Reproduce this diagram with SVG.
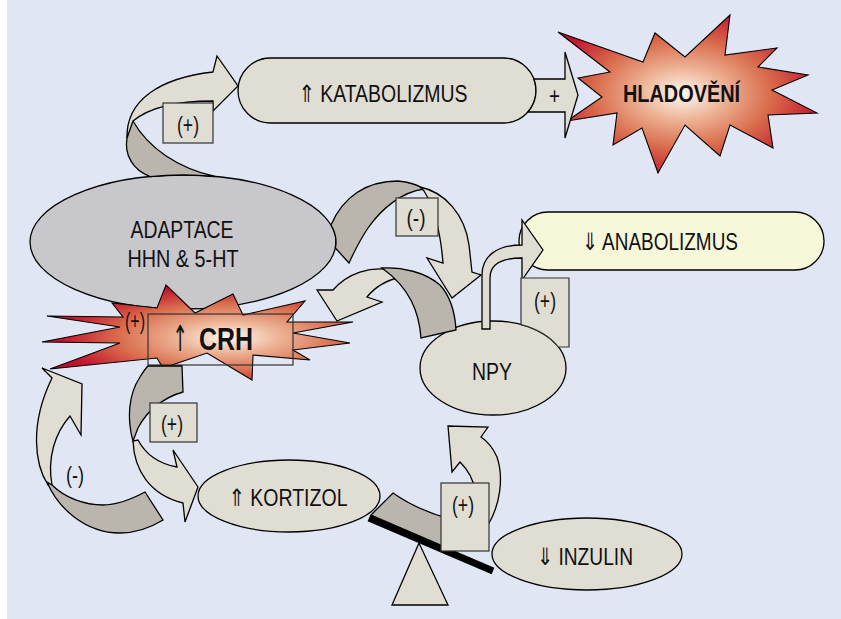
<svg xmlns="http://www.w3.org/2000/svg" width="841" height="619" viewBox="0 0 841 619">
<defs>
<radialGradient id="burstH" cx="0.48" cy="0.5" r="0.55">
<stop offset="0" stop-color="#FFF8F2"/>
<stop offset="0.3" stop-color="#EDB395"/>
<stop offset="0.62" stop-color="#D96C4C"/>
<stop offset="1" stop-color="#C2102C"/>
</radialGradient>
<radialGradient id="burstC" cx="0.6" cy="0.55" r="0.55">
<stop offset="0" stop-color="#FFF8F2"/>
<stop offset="0.3" stop-color="#EDB395"/>
<stop offset="0.65" stop-color="#D96C4C"/>
<stop offset="1" stop-color="#C2102C"/>
</radialGradient>
</defs>
<style>
.lt{fill:#E0DDD3;stroke:#000;stroke-width:1.3;stroke-linejoin:miter}
.dk{fill:#BAB6AD;stroke:#000;stroke-width:1.3;stroke-linejoin:miter}
.box{fill:#E0DDD3;stroke:#333;stroke-width:1.2}
.nd{fill:#E0DDD3;stroke:#000;stroke-width:1.3}
.burst{stroke:#000;stroke-width:1.1;stroke-linejoin:miter}
.t{font-family:"Liberation Sans","DejaVu Sans",sans-serif;font-size:24px;fill:#111;text-anchor:middle}
.lb{font-family:"Liberation Sans","DejaVu Sans",sans-serif;font-size:24px;fill:#111;text-anchor:middle}
</style>
<rect x="0" y="0" width="841" height="619" fill="#FFFFFF"/>
<rect x="7" y="0" width="834" height="619" fill="#E0E6F4"/>

<g id="hladoveni">
<polygon class="burst" fill="url(#burstH)" points="558,32 643,62 655,33 685,57 730,15 725,55 777,48 758,67 808,75 772,90 817,113 768,115 773,148 730,125 720,156 685,125 658,173 642,128 613,145 617,113 567,121 602,97 578,78 610,72"/>
<text class="t" x="681.5" y="102" font-size="24" font-weight="bold" textLength="117" lengthAdjust="spacingAndGlyphs">HLADOVĚNÍ</text>
</g>

<g id="katabolizmus">
<rect class="nd" x="238" y="58" width="298" height="65" rx="32.5" ry="32.5"/>
<text class="t" x="383" y="102" textLength="169" lengthAdjust="spacingAndGlyphs">⇑ KATABOLIZMUS</text>
</g>

<g id="anabolizmus">
<rect x="519" y="212" width="305" height="58" rx="29" ry="29" fill="#F7F7D9" stroke="#000" stroke-width="1.3"/>
<text class="t" x="660" y="250" textLength="156" lengthAdjust="spacingAndGlyphs">⇓ ANABOLIZMUS</text>
</g>

<g id="adaptace">
<ellipse cx="183" cy="242" rx="153" ry="67" fill="#C8C7CC" stroke="#000" stroke-width="1.3"/>
<text class="t" x="182" y="238" font-size="22" textLength="103" lengthAdjust="spacingAndGlyphs">ADAPTACE</text>
<text class="t" x="183" y="267" font-size="22" textLength="111" lengthAdjust="spacingAndGlyphs">HHN &amp; 5-HT</text>
</g>

<g id="crh">
<polygon class="burst" fill="url(#burstC)" points="47,316 123,317 112,303 157,308 166,285 195,313 233,294 243,315 305,301 287,322 353,322 293,333 350,343 293,350 310,360 253,355 252,380 207,353 163,368 157,358 50,369 120,343 42,342 120,327"/>
<rect x="148" y="314" width="145" height="51" fill="none" stroke="#333" stroke-width="1.2"/>
<text transform="translate(180,351) scale(0.5,1)" x="0" y="0" font-family="DejaVu Sans, sans-serif" font-size="36" fill="#111" text-anchor="middle">↑</text>
<text x="226" y="350" font-family="Liberation Sans, sans-serif" font-size="31" font-weight="bold" fill="#111" text-anchor="middle" textLength="54" lengthAdjust="spacingAndGlyphs">CRH</text>
</g>

<g id="npy">
<ellipse class="nd" cx="493" cy="368" rx="73" ry="47"/>
<text class="t" x="492" y="380" textLength="40" lengthAdjust="spacingAndGlyphs">NPY</text>
</g>

<g id="kortizol">
<ellipse class="nd" cx="289" cy="496" rx="91" ry="36"/>
<text class="t" x="288" y="506" textLength="119" lengthAdjust="spacingAndGlyphs">⇑ KORTIZOL</text>
</g>

<g id="inzulin">
<ellipse class="nd" cx="587" cy="554" rx="95" ry="36"/>
<text class="t" x="585" y="565" textLength="96" lengthAdjust="spacingAndGlyphs">⇓ INZULIN</text>
</g>

<g id="seesaw">
<line x1="369" y1="518" x2="493" y2="571" stroke="#000" stroke-width="7"/>
<polygon class="nd" points="419,543 392,605 448,605"/>
</g>

<g id="connectors">
<path class="dk" d="M150,176.6 C133,170 124,155 127,138 C128,130 130,125 133,121 C148,148 178,168 215,176.5 A153,67 0 0 0 150,176.6 Z"/>
<path class="lt" d="M127,138 C126,100 160,78 213,72 L217,56 L238,86 L213,111 L213,101 C178,101 150,107 133,121 Z"/>
<path class="lt" d="M533.9,79 L565,79 L565,52 L578,95 L565,138 L565,112 L527.9,112 A32.5,32.5 0 0 0 533.9,79 Z"/>
<path class="dk" d="M349,263 L335.4,248 A153,67 0 0 0 331,225 C343,197 366,181 398,181 C410,182 418,185 424,189 C402,192 382,208 368,228 C360,240 354,252 349,263 Z"/>
<path class="lt" d="M420,187 C445,192 465,215 469,245 L472,272 L481,275 L452,298 L427,258 L443,263 C441,238 436,210 424,191 Z"/>
<path class="lt" d="M392,270 C370,266 348,273 333,290 L317,290 L337,321 L382,302 L367,297 C375,287 386,280 402,277 Z"/>
<path class="dk" d="M421,338 C419,312 410,288 382,268 C402,267 425,272 440,285 C450,296 455,312 456,330 Z"/>
<path class="lt" d="M482,329 L482,275 C482,256 497,245 522,245 L522,220 L543,250 L522,280 L522,258 C502,258 490,264 490,278 L490,329 Z"/>
<path class="dk" d="M148,366 L182,366 L183,392 C165,397 147,410 138,428 L133,441 C127,420 128,395 140,377 C143,372 145,369 148,366 Z"/>
<path class="lt" d="M133,441 C134,470 150,495 183,503 L185,522 L198,487 L173,450 L177,467 C160,464 146,455 138,440 Z"/>
<path class="lt" d="M42,368 L82,384 L81,435 L70,416 C55,433 47,458 52,485 L48,485 C35,465 29,425 52,378 Z"/>
<path class="dk" d="M47,482 C58,508 85,533 120,533 C135,533 150,528 163,520 L145,492 C130,500 115,505 103,505 C85,505 65,498 52,485 Z"/>
<path class="dk" d="M371,515 L393,493 C410,505 428,513 450,519 L450,549 Z"/>
<path class="lt" d="M488,525 C500,505 504,478 497,457 C493,448 487,441 481,437 L488,427 L448,426 L452,472 L460,462 C468,470 473,478 475,490 L470,525 Z"/>
<rect class="box" x="163" y="103" width="50" height="40"/>
<text class="lb" x="188" y="133" textLength="22" lengthAdjust="spacingAndGlyphs">(+)</text>
<rect class="box" x="396" y="198" width="42" height="38"/>
<text class="lb" x="416" y="226" textLength="19" lengthAdjust="spacingAndGlyphs">(-)</text>
<path class="box" d="M521,278 L569,278 L569,347 L558.3,347 A73,47 0 0 0 521,324.6 Z"/>
<text class="lb" x="545" y="309" textLength="22" lengthAdjust="spacingAndGlyphs">(+)</text>
<rect class="box" x="441" y="483" width="48" height="68"/>
<text class="lb" x="463" y="513" textLength="22" lengthAdjust="spacingAndGlyphs">(+)</text>
<rect class="box" x="150" y="403" width="47" height="39"/>
<text class="lb" x="172" y="432" textLength="22" lengthAdjust="spacingAndGlyphs">(+)</text>
<text class="lb" x="135" y="329" font-size="22" textLength="20" lengthAdjust="spacingAndGlyphs">(+)</text>
<text class="lb" x="75" y="483" textLength="18" lengthAdjust="spacingAndGlyphs">(-)</text>
<text class="lb" x="554.5" y="104" textLength="11" lengthAdjust="spacingAndGlyphs">+</text>
</g>
</svg>
